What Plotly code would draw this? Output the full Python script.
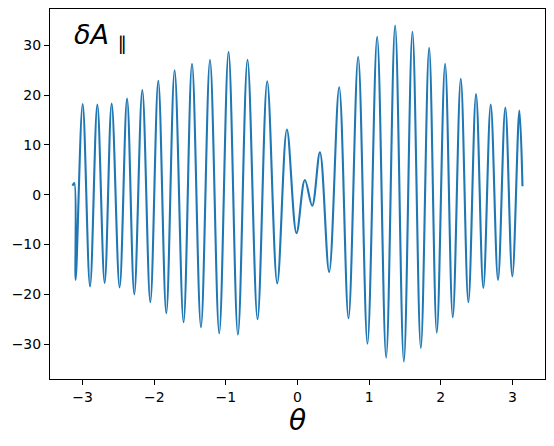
import plotly.graph_objects as go

# Extrema / sample points
theta = [-3.1416, -3.116, -3.098, -3.000, -2.897, -2.795, -2.693, -2.595, -2.484,
         -2.380, -2.279, -2.167, -2.055, -1.944, -1.832, -1.716, -1.591, -1.473,
         -1.348, -1.222, -1.093, -0.963, -0.832, -0.698, -0.558, -0.423, -0.283,
         -0.148, -0.014, 0.103, 0.205, 0.313, 0.442, 0.582, 0.712, 0.847, 0.977,
         1.112, 1.238, 1.363, 1.485, 1.605, 1.722, 1.838, 1.945, 2.061, 2.168,
         2.280, 2.386, 2.493, 2.595, 2.698, 2.800, 2.902, 3.000, 3.098, 3.1416]
dA_par = [1.8, 2.35, -17.1, 18.2, -18.4, 18.1, -17.7, 18.3, -18.6,
          19.3, -20.0, 21.0, -21.6, 22.9, -23.8, 25.0, -25.6, 26.3,
          -26.6, 27.1, -27.8, 28.7, -28.1, 27.1, -25.0, 22.8, -17.8,
          13.1, -7.7, 2.95, -2.2, 8.5, -15.5, 21.6, -24.8, 27.7, -29.9,
          31.7, -32.7, 34.0, -33.5, 32.7, -30.8, 29.5, -27.7, 26.3, -24.6,
          23.3, -21.6, 20.2, -18.7, 18.1, -17.1, 17.5, -16.4, 16.9, 1.7]

x_ticks = [-3, -2, -1, 0, 1, 2, 3]
y_ticks = [-30, -20, -10, 0, 10, 20, 30]

fig = go.Figure()
fig.add_trace(go.Scatter(
    x=theta, y=dA_par, mode="lines",
    line=dict(color="#1f77b4", width=2.1, shape="spline", smoothing=1.0),
    showlegend=False,
))

axis_common = dict(
    showgrid=False, zeroline=False, showline=True, linecolor="black", linewidth=1,
    mirror=True, ticks="outside", ticklen=5, tickwidth=1, tickcolor="black",
    tickfont=dict(family="DejaVu Sans", size=14, color="black"),
    automargin=False,
)
fig.update_xaxes(range=[-3.456, 3.456], tickvals=x_ticks, **axis_common)
fig.update_yaxes(range=[-37.0, 37.3], tickvals=y_ticks, **axis_common)

fig.add_annotation(
    text="<i>δA</i> <sub>∥</sub>", xref="paper", yref="paper",
    x=0.044, y=0.925, xanchor="left", yanchor="middle", showarrow=False,
    font=dict(family="DejaVu Sans", size=27, color="black"),
)
fig.add_annotation(
    text="<i>θ</i>", xref="paper", yref="paper",
    x=0.5, y=-0.111, xanchor="center", yanchor="middle", showarrow=False,
    font=dict(family="DejaVu Sans", size=28, color="black"),
)

# the page body has an 8px default margin, so the figure is 8px smaller
fig.update_layout(
    width=546, height=438,
    margin=dict(l=42, r=9, t=1, b=67),
    plot_bgcolor="white", paper_bgcolor="white",
)
fig.write_html("out.html")
